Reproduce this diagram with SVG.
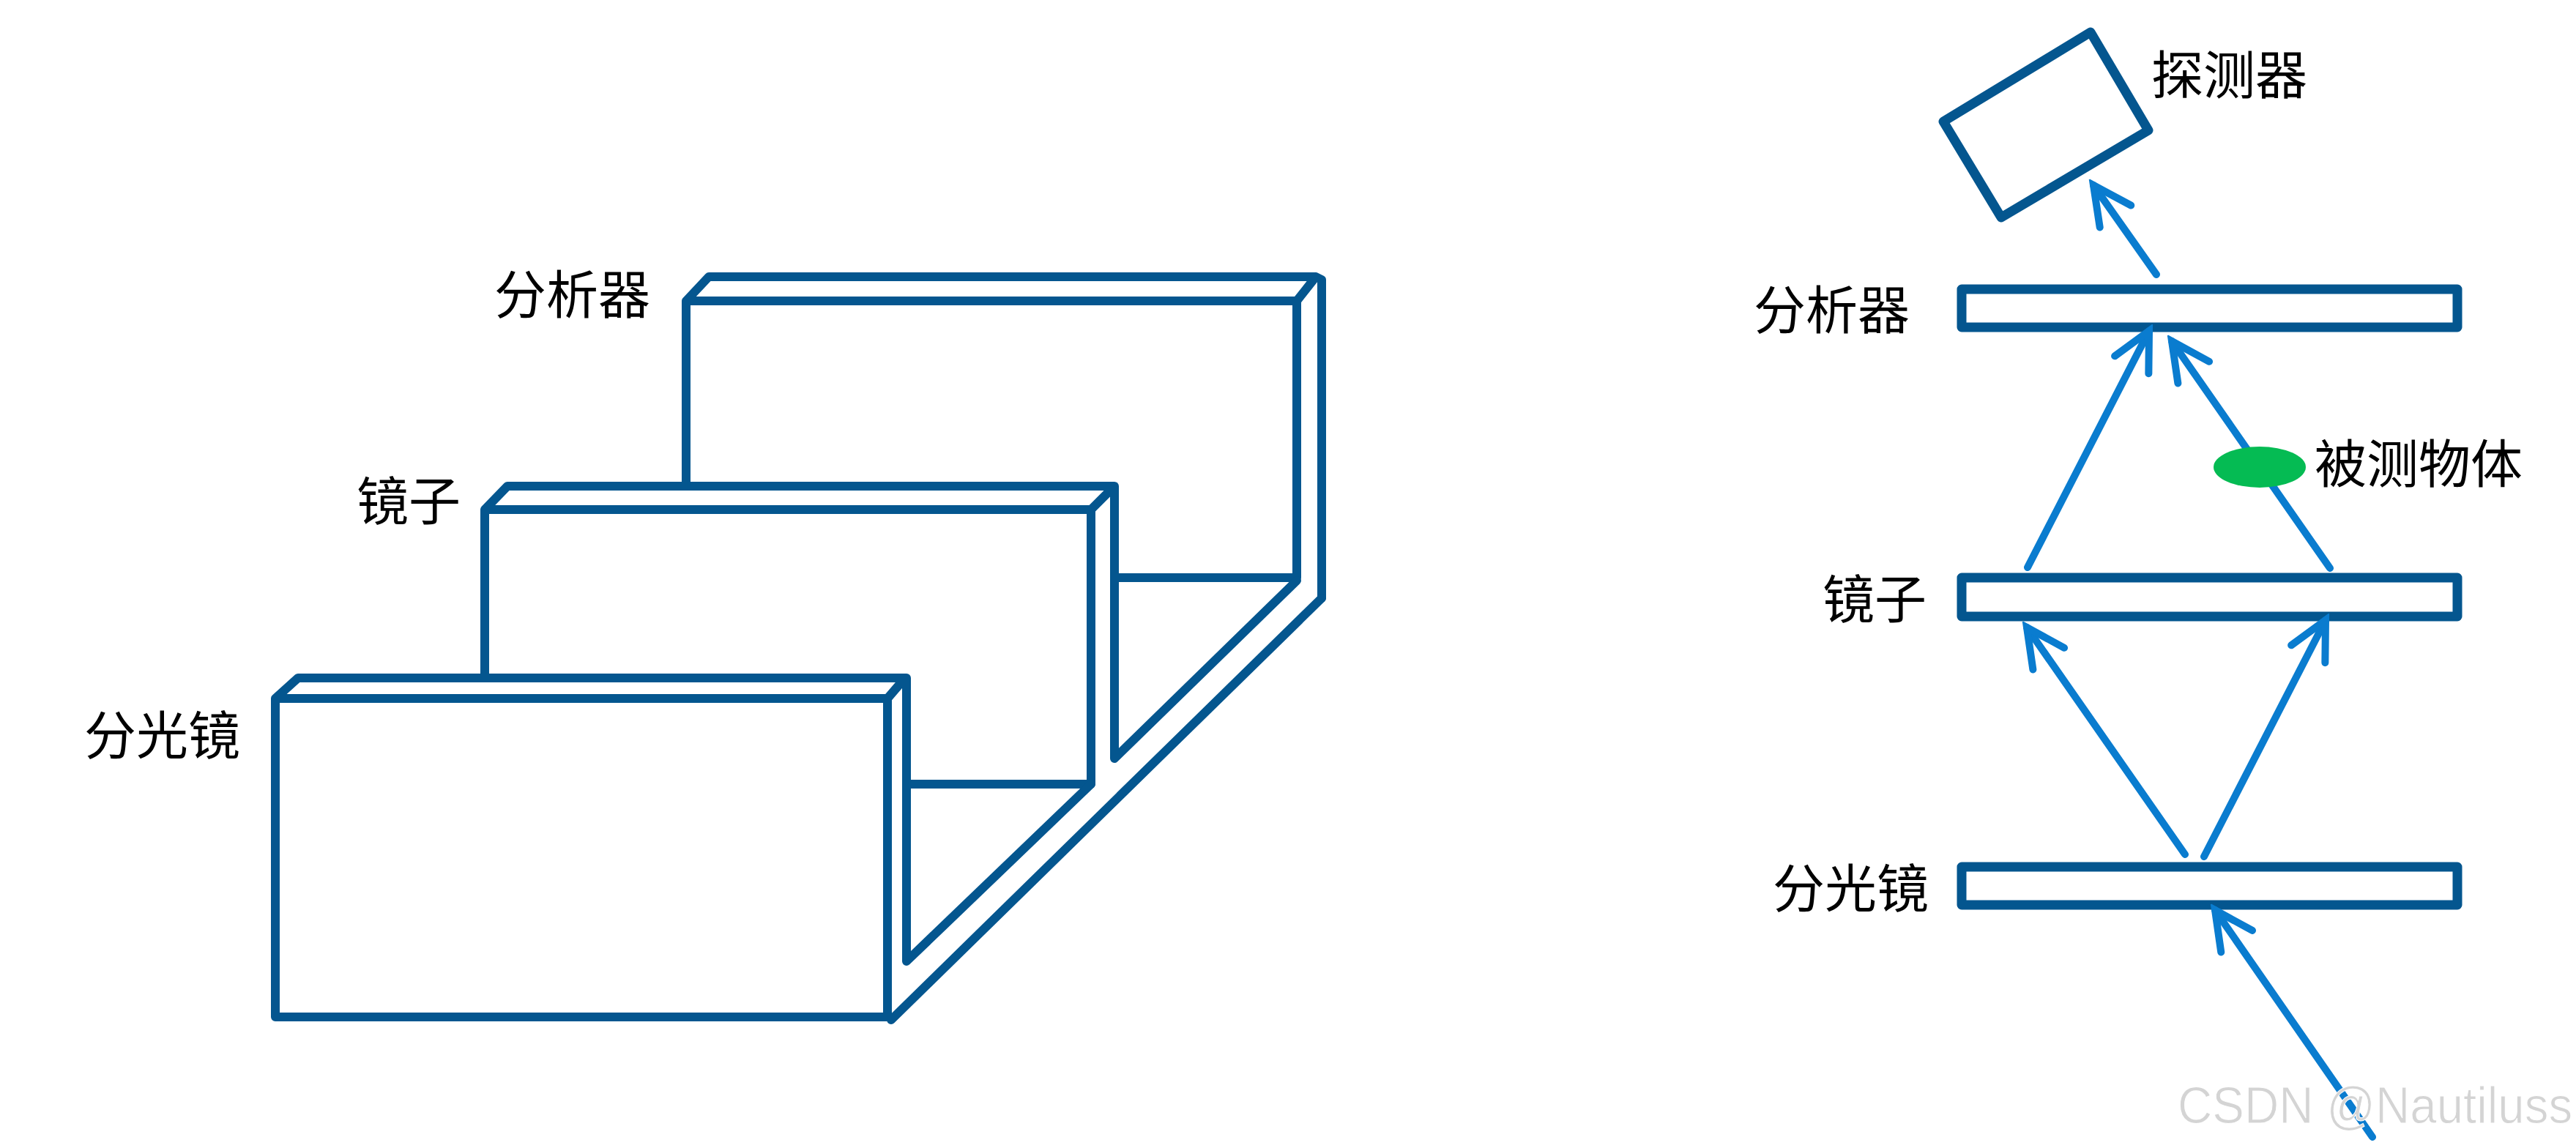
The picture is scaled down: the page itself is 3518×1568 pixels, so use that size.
<svg xmlns="http://www.w3.org/2000/svg" width="3518" height="1568" viewBox="0 0 3518 1568">
<style>
.b{fill:#fff;stroke:#04568f;stroke-width:13;stroke-linejoin:round;stroke-linecap:round}
.bn{fill:none;stroke:#04568f;stroke-width:12;stroke-linejoin:round;stroke-linecap:round}
.c{fill:none;stroke:#0a7ccf;stroke-width:10;stroke-linecap:round;marker-end:url(#h)}
.t{font-family:"Noto Sans CJK SC","Liberation Serif",sans-serif;font-size:71px;fill:#000}
.w{font-family:"Liberation Sans",sans-serif;font-size:70px;fill:#d4d4d4;stroke:#fff;stroke-width:1}
</style>
<defs>
<marker id="h" markerUnits="userSpaceOnUse" viewBox="-70 -40 80 80" refX="0" refY="0" markerWidth="80" markerHeight="80" orient="auto">
<path d="M-52,-26L0,0L-52,26" fill="none" stroke="#0a7ccf" stroke-width="10" stroke-linecap="round" stroke-linejoin="miter"/>
</marker>
</defs>
<rect width="3518" height="1568" fill="#fff"/>
<g id="left-analyzer">
<path class="bn" d="M937,663V411L968,378H1797L1771,411H937M1771,411V789H1524M1797,378L1805,382V817"/>
<text class="t" x="675" y="428">分析器</text>
</g>
<g id="left-mirror">
<path class="bn" d="M662,926V696L693,664H1522L1490,696H662M1490,696V1071H1241M1522,664V1036L1771,793"/>
<text class="t" x="487" y="710">镜子</text>
</g>
<g id="left-splitter">
<path class="bn" d="M376,954L407,926H1236L1212,954H376V1389H1212V954M1238,926V1313L1490,1071M1217,1393L1805,817"/>
<text class="t" x="115" y="1030">分光镜</text>
</g>
<g id="detector">
<path class="b" d="M2855,44L2934,178L2733,297L2654,166Z"/>
<text class="t" x="2938" y="128">探测器</text>
</g>
<g id="analyzer">
<rect class="b" x="2679" y="395" width="677" height="52"/>
<text class="t" x="2395" y="449">分析器</text>
</g>
<g id="mirror">
<rect class="b" x="2679" y="789" width="677" height="53"/>
<text class="t" x="2489" y="844">镜子</text>
</g>
<g id="splitter">
<rect class="b" x="2679" y="1184" width="677" height="52"/>
<text class="t" x="2421" y="1239">分光镜</text>
</g>
<g id="connectors">
<path class="c" d="M2945,375L2859,253"/>
<path class="c" d="M2769,775L2935,452"/>
<path class="c" d="M3182,776L2966,466"/>
<path class="c" d="M2984,1167L2768,857"/>
<path class="c" d="M3010,1170L3176,847"/>
<path class="c" d="M3240,1553L3025,1243"/>
</g>
<g id="sample">
<ellipse cx="3086" cy="638" rx="63" ry="28" fill="#05bb53"/>
<text class="t" x="3161" y="659">被测物体</text>
</g>
<text class="w" transform="translate(2974,1534) scale(.935,1)">CSDN @Nautiluss</text>
</svg>
